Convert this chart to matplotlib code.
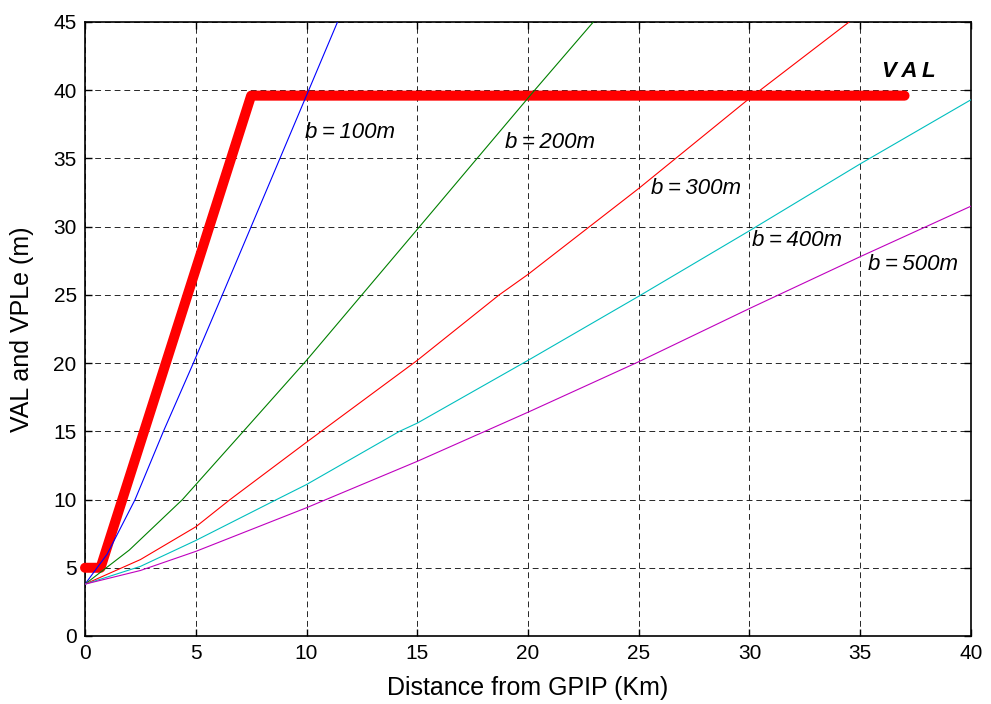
import matplotlib
matplotlib.use("Agg")
import matplotlib.pyplot as plt

# ---- data ----
val_x = [0.0, 0.7, 7.5, 37.0]
val_y = [5.0, 5.0, 39.6, 39.6]

b100_x = [0.0, 1.0, 2.26, 3.54, 4.89, 6.2, 7.5, 8.8, 10.1, 11.4]
b100_y = [3.8, 6.0, 10.0, 15.0, 20.0, 25.0, 30.0, 35.0, 40.0, 45.0]

b200_x = [0.0, 2.0, 4.4, 7.15, 10.0, 12.5, 15.0, 17.7, 20.3, 22.95]
b200_y = [3.8, 6.3, 10.0, 15.0, 20.2, 25.0, 29.8, 35.0, 40.0, 45.0]

b300_x = [0.0, 2.5, 5.0, 6.55, 10.0, 15.0, 18.7, 20.0, 25.0, 30.0, 34.5]
b300_y = [3.8, 5.6, 8.0, 10.0, 14.2, 20.2, 25.0, 26.5, 32.8, 39.4, 45.0]

b400_x = [0.0, 2.5, 5.0, 8.65, 10.0, 14.2, 15.0, 20.0, 25.0, 30.0, 35.0, 40.0]
b400_y = [3.8, 5.1, 7.0, 10.0, 11.1, 15.0, 15.6, 20.2, 24.9, 29.7, 34.6, 39.3]

b500_x = [0.0, 2.5, 5.0, 10.0, 15.0, 20.0, 25.0, 30.0, 35.0, 40.0]
b500_y = [3.8, 4.8, 6.2, 9.4, 12.8, 16.4, 20.1, 24.0, 27.8, 31.5]

x_ticks = [0, 5, 10, 15, 20, 25, 30, 35, 40]
y_ticks = [0, 5, 10, 15, 20, 25, 30, 35, 40, 45]

labels = ["b\u2009=\u2009100m", "b\u2009=\u2009200m", "b\u2009=\u2009300m",
          "b\u2009=\u2009400m", "b\u2009=\u2009500m"]
label_pos = [(9.95, 36.9), (18.95, 36.2), (25.55, 32.8), (30.1, 29.0), (35.35, 27.2)]

plt.rcParams['font.family'] = ['Liberation Sans', 'DejaVu Sans']

fig = plt.figure(figsize=(9.91, 7.04), dpi=100)
ax = fig.add_axes([0.0858, 0.0966, 0.894, 0.8722])

ax.plot(val_x, val_y, color='red', linewidth=7.2, solid_capstyle='round',
        solid_joinstyle='round', clip_on=False, zorder=3)

series = [(b100_x, b100_y, (0, 0, 1)),
          (b200_x, b200_y, (0, 0.5, 0)),
          (b300_x, b300_y, (1, 0, 0)),
          (b400_x, b400_y, (0, 0.75, 0.75)),
          (b500_x, b500_y, (0.75, 0, 0.75))]
for xs, ys, c in series:
    ax.plot(xs, ys, color=c, linewidth=0.8, zorder=4)

for txt, (tx, ty) in zip(labels, label_pos):
    ax.text(tx, ty, txt, fontsize=16, style='italic', ha='left', va='center', zorder=5)
ax.text(36.0, 41.4, "V\u2009A\u2009L", fontsize=16, style='italic', weight='bold',
        ha='left', va='center', zorder=5)

ax.set_xlim(0, 40)
ax.set_ylim(0, 45)
ax.set_xticks(x_ticks)
ax.set_yticks(y_ticks)
ax.tick_params(direction='in', length=5, width=1, top=True, right=True,
               labelsize=15, pad=6)
ax.grid(True, color='black', linestyle=(0, (6, 4)), linewidth=0.7, alpha=0.85)
ax.set_axisbelow(True)
for s in ax.spines.values():
    s.set_linewidth(1.2)

ax.set_xlabel("Distance from GPIP (Km)", fontsize=18, labelpad=9)
ax.set_ylabel("VAL and VPLe (m)", fontsize=18, labelpad=14)

fig.savefig("out.png", dpi=100)
